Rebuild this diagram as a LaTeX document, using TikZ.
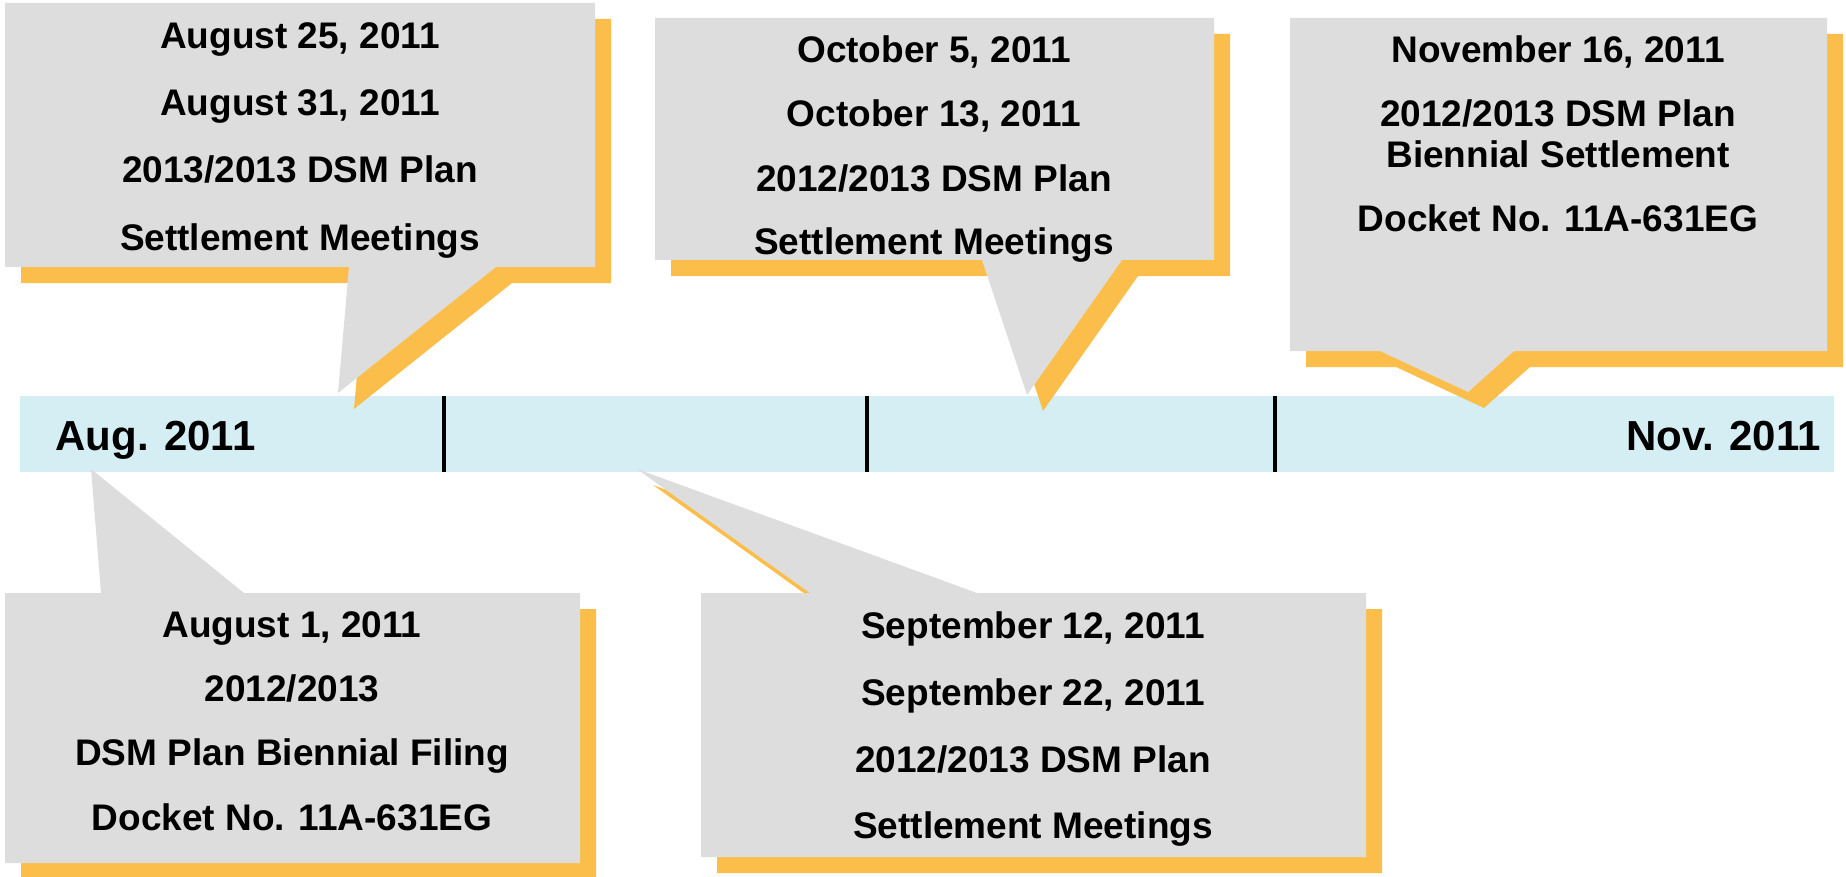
\documentclass[tikz,border=0pt]{standalone}
\usepackage{fontspec}
\setmainfont{Liberation Sans}
\definecolor{cgray}{RGB}{221,221,221}
\definecolor{corange}{RGB}{251,190,75}
\definecolor{cblue}{RGB}{212,238,244}
\tikzset{
  lbl/.style={font=\fontsize{18.5}{22}\selectfont\bfseries, anchor=base, inner sep=0pt},
  tl/.style={font=\fontsize{21}{25}\selectfont\bfseries, anchor=base, inner sep=0pt},
  tick/.style={line width=2.4pt, black},
  shadowfill/.style={fill=corange},
  boxfill/.style={fill=cgray}
}
% top callout: x1 y1 x2 y2 baseleft baseright tipx tipy
\newcommand\topcall[8]{%
  \fill[shadowfill, shift={(16,16)}] (#1,#2) -- (#3,#2) -- (#3,#4) -- (#6,#4) -- (#7,#8) -- (#5,#4) -- (#1,#4) -- cycle;
  \fill[boxfill] (#1,#2) -- (#3,#2) -- (#3,#4) -- (#6,#4) -- (#7,#8) -- (#5,#4) -- (#1,#4) -- cycle;
}
% bottom callout: x1 y1 x2 y2 baseleft baseright tipx tipy
\newcommand\botcall[8]{%
  \fill[shadowfill, shift={(16,16)}] (#1,#2) -- (#5,#2) -- (#7,#8) -- (#6,#2) -- (#3,#2) -- (#3,#4) -- (#1,#4) -- cycle;
  \fill[boxfill] (#1,#2) -- (#5,#2) -- (#7,#8) -- (#6,#2) -- (#3,#2) -- (#3,#4) -- (#1,#4) -- cycle;
}
\begin{document}
\begin{tikzpicture}[x=0.5pt, y=-0.5pt]
\useasboundingbox (0,0) rectangle (1846,877);
% timeline bar
\fill[cblue] (20,396) rectangle (1834,472);
\coordinate (t1a) at (444,396); \coordinate (t1b) at (444,472);
\coordinate (t2a) at (867,396); \coordinate (t2b) at (867,472);
\coordinate (t3a) at (1275,396); \coordinate (t3b) at (1275,472);
\draw[tick] (t1a) -- (t1b);
\draw[tick] (t2a) -- (t2b);
\draw[tick] (t3a) -- (t3b);
\node[tl, anchor=base west] (aug) at (55,450) {Aug. 2011};
\node[tl, anchor=base east] (nov) at (1821,450) {Nov. 2011};

% callout 1 (top left)
\topcall{5}{3}{595}{267}{349}{496}{338}{393}
\node[lbl] (c1a) at (300,49) {August 25, 2011};
\node[lbl] (c1b) at (300,116) {August 31, 2011};
\node[lbl] (c1c) at (300,183) {2013/2013 DSM Plan};
\node[lbl] (c1d) at (300,250) {Settlement Meetings};

% callout 2 (top middle)
\topcall{655}{18}{1214}{260}{982}{1122}{1027}{395}
\node[lbl] (c2a) at (934,63) {October 5, 2011};
\node[lbl] (c2b) at (934,127) {October 13, 2011};
\node[lbl] (c2c) at (934,192) {2012/2013 DSM Plan};
\node[lbl] (c2d) at (934,255) {Settlement Meetings};

% callout 3 (top right)
\topcall{1290}{18}{1827}{351}{1380}{1514}{1468}{392}
\node[lbl] (c3a) at (1558,63) {November 16, 2011};
\node[lbl] (c3b) at (1558,127) {2012/2013 DSM Plan};
\node[lbl] (c3c) at (1558,168) {Biennial Settlement};
\node[lbl] (c3d) at (1558,232) {Docket No. 11A-631EG};

% callout 4 (bottom left)
\botcall{5}{593}{580}{863}{101}{244}{91}{469}
\node[lbl] (c4a) at (292,637) {August 1, 2011};
\node[lbl] (c4b) at (292,701) {2012/2013};
\node[lbl] (c4c) at (292,765) {DSM Plan Biennial Filing};
\node[lbl] (c4d) at (292,830) {Docket No. 11A-631EG};

% callout 5 (bottom middle)
\botcall{701}{593}{1366}{857}{810}{977}{637}{469}
\node[lbl] (c5a) at (1033,638) {September 12, 2011};
\node[lbl] (c5b) at (1033,705) {September 22, 2011};
\node[lbl] (c5c) at (1033,772) {2012/2013 DSM Plan};
\node[lbl] (c5d) at (1033,838) {Settlement Meetings};
\end{tikzpicture}
\end{document}
